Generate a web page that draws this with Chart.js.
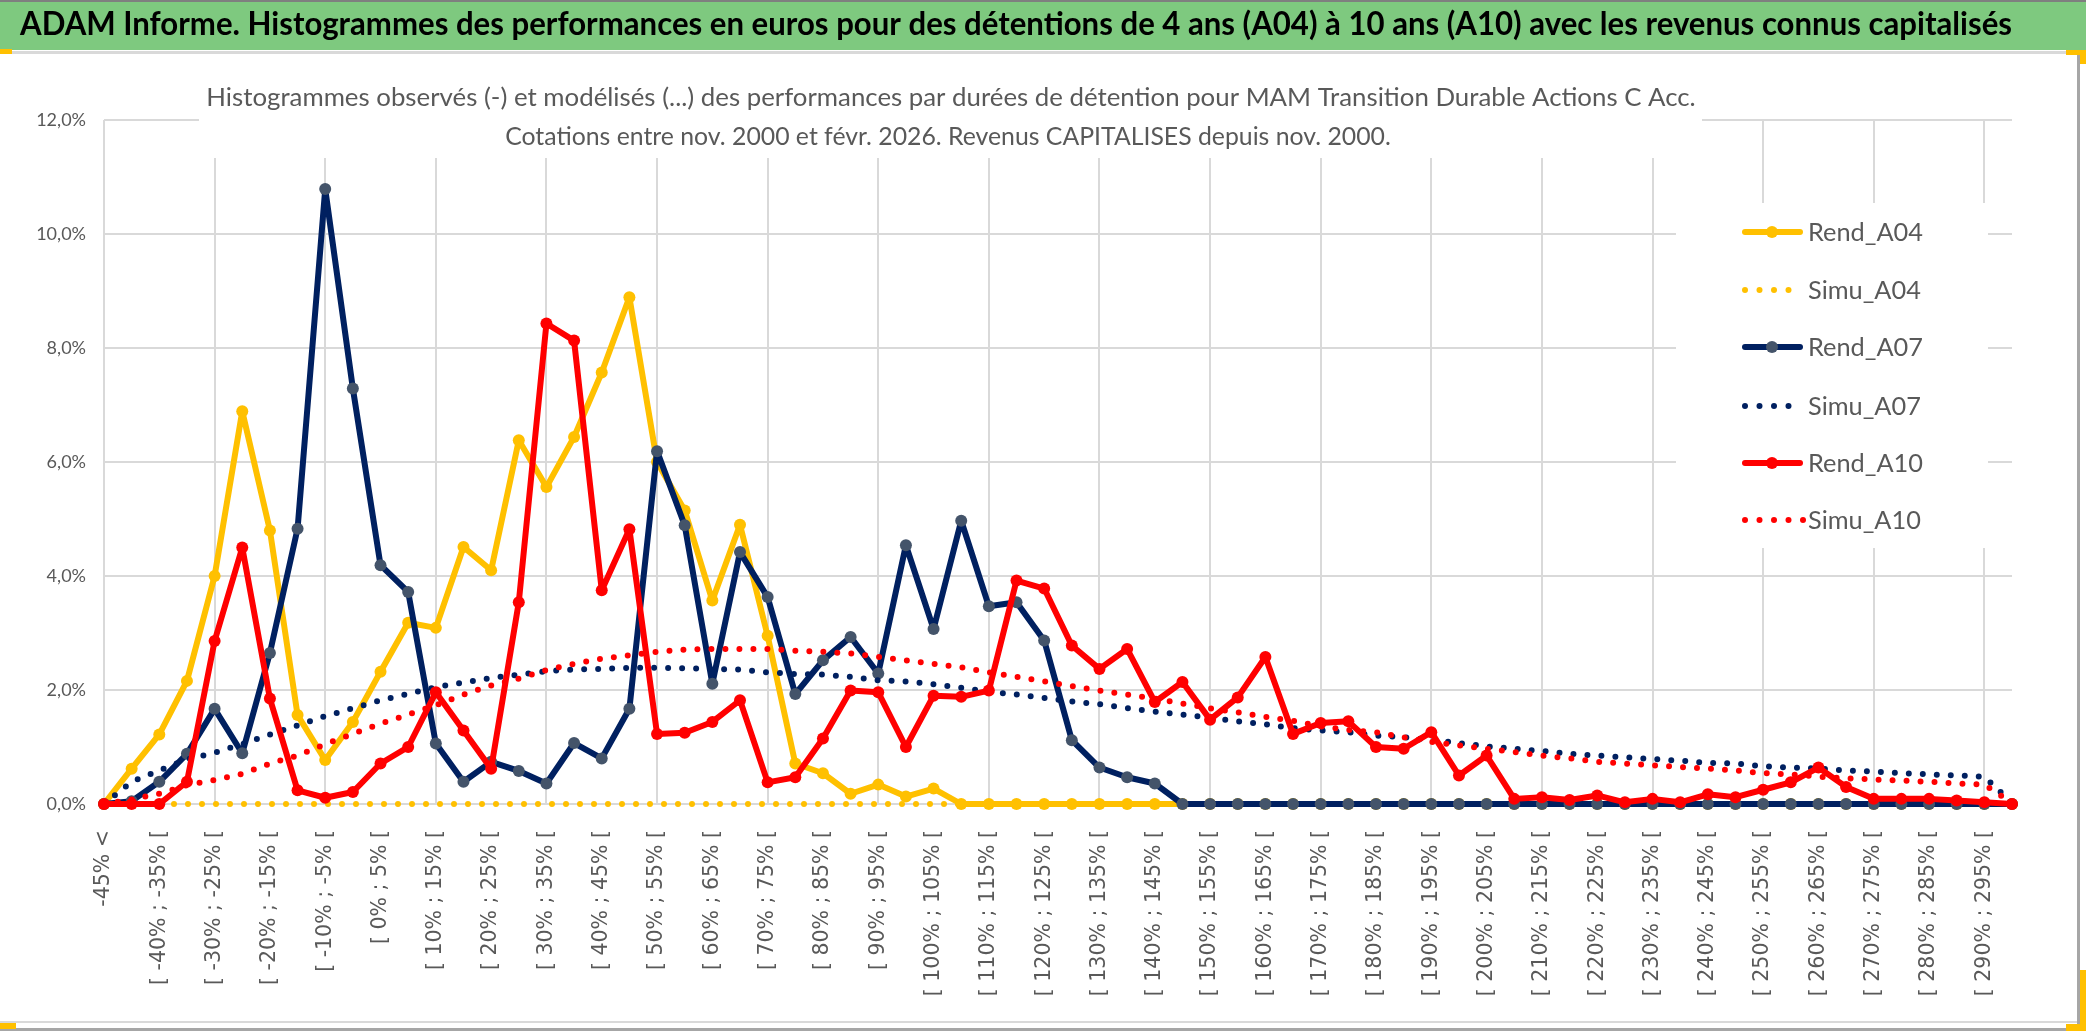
<!DOCTYPE html>
<html><head><meta charset="utf-8">
<script src="https://cdn.jsdelivr.net/npm/chart.js@4.4.1/dist/chart.umd.min.js"></script>
<style>html,body{margin:0;padding:0;background:#fff;overflow:hidden}#wrap{width:2086px;height:1031px;position:relative}</style>
</head><body><div id="wrap"><canvas id="c" width="2086" height="1031"></canvas></div>
<script>
const mainTitle = "ADAM Informe. Histogrammes des performances en euros pour des détentions de 4 ans (A04) à 10 ans (A10) avec les revenus connus capitalisés";
const subTitleLines = [
  "Histogrammes observés (-) et modélisés (...) des performances par durées de détention pour MAM Transition Durable Actions C Acc.",
  "Cotations entre nov. 2000 et févr. 2026. Revenus CAPITALISES depuis nov. 2000."
];
const categories = [
  "-45% <","[ -45% ; -40% [","[ -40% ; -35% [","[ -35% ; -30% [","[ -30% ; -25% [","[ -25% ; -20% [","[ -20% ; -15% [","[ -15% ; -10% [","[ -10% ; -5% [","[ -5% ; 0% [",
  "[ 0% ; 5% [","[ 5% ; 10% [","[ 10% ; 15% [","[ 15% ; 20% [","[ 20% ; 25% [","[ 25% ; 30% [","[ 30% ; 35% [","[ 35% ; 40% [","[ 40% ; 45% [","[ 45% ; 50% [",
  "[ 50% ; 55% [","[ 55% ; 60% [","[ 60% ; 65% [","[ 65% ; 70% [","[ 70% ; 75% [","[ 75% ; 80% [","[ 80% ; 85% [","[ 85% ; 90% [","[ 90% ; 95% [","[ 95% ; 100% [",
  "[ 100% ; 105% [","[ 105% ; 110% [","[ 110% ; 115% [","[ 115% ; 120% [","[ 120% ; 125% [","[ 125% ; 130% [","[ 130% ; 135% [","[ 135% ; 140% [","[ 140% ; 145% [","[ 145% ; 150% [",
  "[ 150% ; 155% [","[ 155% ; 160% [","[ 160% ; 165% [","[ 165% ; 170% [","[ 170% ; 175% [","[ 175% ; 180% [","[ 180% ; 185% [","[ 185% ; 190% [","[ 190% ; 195% [","[ 195% ; 200% [",
  "[ 200% ; 205% [","[ 205% ; 210% [","[ 210% ; 215% [","[ 215% ; 220% [","[ 220% ; 225% [","[ 225% ; 230% [","[ 230% ; 235% [","[ 235% ; 240% [","[ 240% ; 245% [","[ 245% ; 250% [",
  "[ 250% ; 255% [","[ 255% ; 260% [","[ 260% ; 265% [","[ 265% ; 270% [","[ 270% ; 275% [","[ 275% ; 280% [","[ 280% ; 285% [","[ 285% ; 290% [","[ 290% ; 295% [","[ 295% ; 300% ["
];
const yTicks = [0, 2, 4, 6, 8, 10, 12];
const seriesNames = ["Rend_A04","Simu_A04","Rend_A07","Simu_A07","Rend_A10","Simu_A10"];

const rendA04 = [0,0.62,1.22,2.16,4.0,6.89,4.8,1.56,0.77,1.44,
  2.32,3.18,3.09,4.51,4.10,6.38,5.56,6.44,7.57,8.89,
  6.0,5.15,3.57,4.90,2.95,0.71,0.54,0.18,0.34,0.13,
  0.27,0,0,0,0,0,0,0,0,0,
  0,0,0,0,0,0,0,0,0,0,
  0,0,0,0,0,0,0,0,0,0,
  0,0,0,0,0,0,0,0,0,0];
const simuA04 = [0,0,0,0,0,0,0,0,0,0,
  0,0,0,0,0,0,0,0,0,0,
  0,0,0,0,0,0,0,0,0,0,
  0,0,0,0,0,0,0,0,0,0,
  0,0,0,0,0,0,0,0,0,0,
  0,0,0,0,0,0,0,0,0,0,
  0,0,0,0,0,0,0,0,0,0];
const rendA07 = [0,0.05,0.39,0.88,1.67,0.89,2.65,4.83,10.79,7.29,
  4.19,3.72,1.06,0.39,0.74,0.58,0.36,1.07,0.80,1.67,
  6.19,4.89,2.11,4.42,3.63,1.93,2.52,2.93,2.29,4.54,
  3.07,4.97,3.47,3.54,2.87,1.12,0.64,0.47,0.36,0,
  0,0,0,0,0,0,0,0,0,0,
  0,0,0,0,0,0,0,0,0,0,
  0,0,0,0,0,0,0,0,0,0];
const simuA07 = [0,0.39,0.59,0.78,0.90,1.05,1.22,1.38,1.54,1.68,
  1.82,1.93,2.05,2.13,2.21,2.27,2.33,2.36,2.37,2.39,
  2.39,2.38,2.37,2.36,2.31,2.28,2.27,2.23,2.17,2.15,
  2.10,2.04,1.97,1.92,1.86,1.80,1.75,1.68,1.62,1.57,
  1.51,1.45,1.40,1.33,1.29,1.26,1.20,1.17,1.13,1.07,
  1.01,0.97,0.93,0.88,0.85,0.82,0.79,0.76,0.72,0.71,
  0.66,0.64,0.62,0.59,0.57,0.54,0.52,0.50,0.48,0.02];
const rendA10 = [0,0,0,0.39,2.86,4.50,1.85,0.24,0.11,0.21,
  0.71,1.0,1.96,1.29,0.62,3.54,8.43,8.13,3.75,4.82,
  1.23,1.25,1.44,1.82,0.38,0.47,1.15,1.99,1.96,1.0,
  1.90,1.88,1.99,3.92,3.78,2.78,2.37,2.72,1.79,2.14,
  1.48,1.87,2.58,1.23,1.42,1.45,1.0,0.97,1.26,0.50,
  0.85,0.09,0.12,0.07,0.15,0.03,0.09,0.03,0.17,0.12,
  0.25,0.38,0.64,0.30,0.09,0.09,0.09,0.06,0.03,0];
const simuA10 = [0,0.08,0.18,0.33,0.42,0.53,0.71,0.85,1.05,1.23,
  1.41,1.57,1.73,1.92,2.08,2.20,2.35,2.46,2.55,2.61,
  2.67,2.71,2.72,2.72,2.72,2.69,2.67,2.64,2.58,2.52,
  2.46,2.40,2.31,2.23,2.15,2.07,1.99,1.92,1.85,1.76,
  1.68,1.61,1.53,1.46,1.36,1.30,1.26,1.17,1.09,1.03,
  0.97,0.91,0.85,0.80,0.74,0.71,0.68,0.65,0.62,0.59,
  0.54,0.52,0.48,0.45,0.43,0.41,0.39,0.36,0.34,0.02];

const GOLD = '#FFC000', NAVY = '#002060', RED = '#FF0000', SLATE = '#44546A', GREY_TXT = '#595959', GRID = '#D9D9D9';

const mctx = document.createElement('canvas').getContext('2d');
function textW(font, t){ mctx.font = font; return mctx.measureText(t).width; }
const CAL = 'Lato';
let bannerSize = 30 * 2035 / textW('bold 30px ' + CAL, mainTitle);
let subSize1 = 26 * 1490 / textW('26px ' + CAL, subTitleLines[0]);
let subSize2 = 26 * 886 / textW('26px ' + CAL, subTitleLines[1]);
let legSize = 27 * 115 / textW('27px ' + CAL, 'Rend_A04');

const frame = {
  id: 'frame',
  beforeDraw(chart) {
    const c = chart.ctx; c.save();
    c.fillStyle = '#fff'; c.fillRect(0, 0, 2086, 1031);
    c.fillStyle = '#7EC97F'; c.fillRect(0, 0, 2086, 50);
    c.fillStyle = '#7f7f7f'; c.fillRect(0, 0, 2086, 2);
    c.fillStyle = GRID; c.fillRect(0, 51, 2078, 3);
    c.fillRect(0, 1021, 2078, 2);
    c.fillStyle = '#a6a6a6'; c.fillRect(0, 1028, 2086, 3); c.fillRect(2077, 52, 3, 979);
    c.fillStyle = GOLD; c.fillRect(0, 49, 12, 5); c.fillRect(2066, 50, 20, 5); c.fillRect(2080, 50, 6, 14);
    c.fillRect(2080, 970, 6, 61); c.fillRect(2066, 1024, 20, 7); c.fillRect(0, 1023, 16, 6);
    c.restore();
  }
};

// vertical gridlines every 4th category (as in the reference)
const vgrid = {
  id: 'vgrid',
  beforeDatasetsDraw(chart) {
    const c = chart.ctx, xs = chart.scales.x, a = chart.chartArea;
    c.save(); c.strokeStyle = GRID; c.lineWidth = 2;
    for (let i = 0; i < categories.length; i += 4) {
      const x = Math.round(xs.getPixelForValue(i));
      c.beginPath(); c.moveTo(x, a.top); c.lineTo(x, a.bottom); c.stroke();
    }
    c.restore();
  }
};

const overlay = {
  id: 'overlay',
  beforeDatasetsDraw(chart) {
    const c = chart.ctx; c.save();
    c.fillStyle = '#fff'; c.fillRect(199, 56, 1503, 102);
    c.fillStyle = GREY_TXT; c.textAlign = 'center'; c.textBaseline = 'middle';
    c.font = subSize1 + 'px ' + CAL; c.fillText(subTitleLines[0], 951, 98);
    c.font = subSize2 + 'px ' + CAL; c.fillText(subTitleLines[1], 948, 137);
    c.fillStyle = '#fff'; c.fillRect(1676, 203, 312, 345);
    const ys = [232, 290, 347, 406, 463, 520];
    chart.data.datasets.forEach((d, i) => {
      const y = ys[i];
      c.strokeStyle = d.borderColor; c.fillStyle = d.borderColor; c.lineCap = 'round';
      if (d.borderDash && d.borderDash.length) {
        const n = (i === 5) ? 5 : 4;
        for (let k = 0; k < n; k++) { c.beginPath(); c.arc(1745 + k * 14.5, y, 3, 0, Math.PI * 2); c.fill(); }
      } else {
        c.lineWidth = 6; c.beginPath(); c.moveTo(1745, y); c.lineTo(1800, y); c.stroke();
        c.fillStyle = d.pointBackgroundColor; c.beginPath(); c.arc(1772, y, 6, 0, Math.PI * 2); c.fill();
      }
      c.fillStyle = GREY_TXT; c.font = legSize + 'px ' + CAL; c.textAlign = 'left'; c.textBaseline = 'middle';
      c.fillText(d.label, 1808, y + 1);
    });
    c.restore();
  }
};

function rend(label, data, color, marker, order) {
  return { label, data, borderColor: color, backgroundColor: color, borderWidth: 6,
    pointRadius: 6, pointHoverRadius: 6, pointBackgroundColor: marker, pointBorderColor: marker, pointBorderWidth: 0,
    borderJoinStyle: 'round', borderCapStyle: 'round', tension: 0, clip: false, order };
}
function simu(label, data, color, order) {
  return { label, data, borderColor: color, backgroundColor: color, borderWidth: 6, borderDash: [0, 14],
    borderCapStyle: 'round', pointRadius: 0, pointHoverRadius: 0, tension: 0, clip: false, order };
}

const tTop = 25 - bannerSize * 0.6;
new Chart(document.getElementById('c'), {
  type: 'line',
  data: {
    labels: categories,
    datasets: [
      rend(seriesNames[0], rendA04, GOLD, GOLD, 6),
      simu(seriesNames[1], simuA04, GOLD, 5),
      rend(seriesNames[2], rendA07, NAVY, SLATE, 4),
      simu(seriesNames[3], simuA07, NAVY, 3),
      rend(seriesNames[4], rendA10, RED, RED, 2),
      simu(seriesNames[5], simuA10, RED, 1)
    ]
  },
  options: {
    responsive: false, animation: false, devicePixelRatio: 1,
    layout: { padding: { left: 20, right: 74, top: 0, bottom: 0 } },
    plugins: {
      legend: { display: false }, tooltip: { enabled: false },
      title: { display: true, text: mainTitle, align: 'start', color: '#000',
        font: { family: CAL, weight: 'bold', size: bannerSize, lineHeight: 1.2 },
        padding: { top: tTop, bottom: 120 - tTop - bannerSize * 1.2 } }
    },
    scales: {
      x: {
        type: 'category', offset: false,
        grid: { display: false, drawTicks: false },
        border: { display: false },
        ticks: { autoSkip: false, maxRotation: 90, minRotation: 90, padding: 26, color: GREY_TXT,
          font: { family: 'DejaVu Sans', size: 20.5 },
          callback: (v, i) => (i % 2 === 0 ? categories[i] : '') },
        afterFit: (s) => { s.height = 227; }
      },
      y: {
        min: yTicks[0], max: yTicks[yTicks.length - 1],
        afterBuildTicks: (s) => { s.ticks = yTicks.map(v => ({ value: v })); },
        grid: { color: GRID, lineWidth: 2, drawTicks: false },
        border: { display: false },
        ticks: { color: GREY_TXT, padding: 18, font: { family: CAL, size: 18 },
          callback: (v) => Number(v).toFixed(1).replace('.', ',') + '%' },
        afterFit: (s) => { s.width = 84; }
      }
    }
  },
  plugins: [frame, vgrid, overlay]
});
</script></body></html>
